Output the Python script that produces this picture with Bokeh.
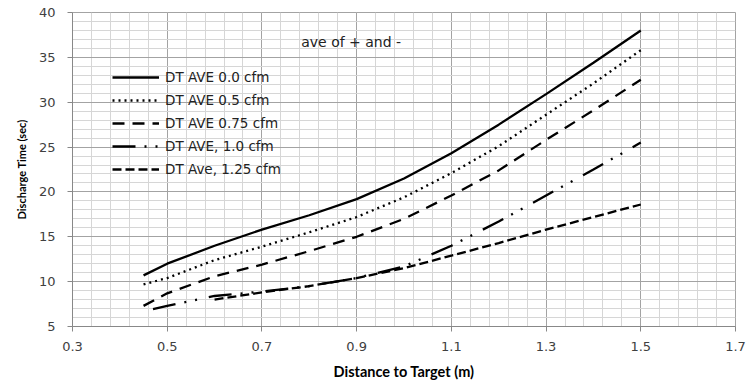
from bokeh.plotting import figure
from bokeh.models import FixedTicker, Legend, LegendItem, Label
from bokeh.embed import file_html
from bokeh.resources import INLINE

# ---- data ----
x_main = [0.45, 0.5, 0.6, 0.7, 0.8, 0.9, 1.0, 1.1, 1.2, 1.3, 1.4, 1.5]
dt_00 = [10.7, 12.0, 14.0, 15.8, 17.4, 19.2, 21.5, 24.3, 27.5, 30.9, 34.4, 38.0]
dt_05 = [9.7, 10.4, 12.4, 13.9, 15.5, 17.2, 19.4, 22.1, 25.1, 28.6, 32.1, 35.8]
dt_075 = [7.3, 8.7, 10.6, 11.9, 13.4, 15.0, 17.0, 19.6, 22.4, 25.8, 29.1, 32.5]
x_10 = [0.47, 0.5, 0.6, 0.7, 0.8, 0.9, 1.0, 1.1, 1.2, 1.3, 1.4, 1.5]
dt_10 = [6.95, 7.3, 8.4, 8.9, 9.5, 10.4, 11.7, 14.0, 16.7, 19.6, 22.5, 25.5]
x_125 = [0.6, 0.7, 0.8, 0.9, 1.0, 1.1, 1.2, 1.3, 1.4, 1.5]
dt_125 = [8.0, 8.8, 9.5, 10.4, 11.5, 12.9, 14.3, 15.8, 17.2, 18.6]

labels = ["DT AVE 0.0 cfm", "DT AVE 0.5 cfm", "DT AVE 0.75 cfm",
          "DT AVE, 1.0 cfm", "DT Ave, 1.25 cfm"]
x_ticks = [0.3, 0.5, 0.7, 0.9, 1.1, 1.3, 1.5, 1.7]
y_ticks = [5, 10, 15, 20, 25, 30, 35, 40]
note = "ave of + and -"

x_minor = [round(0.3 + 0.04 * i, 2) for i in range(36)]
y_minor = list(range(5, 41))

MAJOR = "#a3a3a3"
MINOR = "#d6d6d6"

p = figure(width=748, height=382, x_range=(0.3, 1.7), y_range=(5, 40),
           output_backend="svg", toolbar_location=None,
           min_border_left=72, min_border_right=13, min_border_top=12,
           min_border_bottom=55)

p.background_fill_color = "white"
p.border_fill_color = "white"
p.outline_line_color = MAJOR

xt = FixedTicker(ticks=x_ticks, minor_ticks=x_minor)
yt = FixedTicker(ticks=y_ticks, minor_ticks=y_minor)
p.xaxis.ticker = xt
p.yaxis.ticker = yt
p.xgrid.ticker = xt
p.ygrid.ticker = yt
for g in (p.xgrid, p.ygrid):
    g.grid_line_color = MAJOR
    g.grid_line_width = 1
    g.minor_grid_line_color = MINOR
    g.minor_grid_line_width = 1

for ax in (p.xaxis, p.yaxis):
    ax.axis_line_color = "#888888"
    ax.major_tick_line_color = "#888888"
    ax.major_tick_out = 5
    ax.major_tick_in = 0
    ax.minor_tick_out = 0
    ax.minor_tick_in = 0
    ax.major_label_text_font = "DejaVu Sans"
    ax.major_label_text_font_size = "13px"
    ax.major_label_text_color = "#404040"
    ax.axis_label_text_font = "Lato"
    ax.axis_label_text_font_style = "bold"
    ax.axis_label_text_color = "#000000"

p.xaxis.major_label_standoff = 10
p.yaxis.major_label_standoff = 12
p.xaxis.axis_label = "Distance to Target (m)"
p.xaxis.axis_label_text_font_size = "14.5px"
p.xaxis.axis_label_standoff = 9
p.yaxis.axis_label = "Discharge Time (sec)"
p.yaxis.axis_label_text_font_size = "11px"
p.yaxis.axis_label_standoff = 8

r1 = p.line(x_main, dt_00, line_color="black", line_width=2.3)
r2 = p.line(x_main, dt_05, line_color="black", line_width=2.3, line_dash="2 4")
r3 = p.line(x_main, dt_075, line_color="black", line_width=2.3, line_dash="12 8")
r4 = p.line(x_10, dt_10, line_color="black", line_width=2.3, line_dash="23 9 2 9 2 12")
r5 = p.line(x_125, dt_125, line_color="black", line_width=2.3, line_dash="9 4")

legend = Legend(items=[LegendItem(label=l, renderers=[r]) for l, r in
                       zip(labels, [r1, r2, r3, r4, r5])],
                location=(40, 147))
legend.margin = 0
legend.padding = 0
legend.spacing = 3
legend.glyph_width = 47
legend.glyph_height = 20
legend.label_height = 20
legend.label_standoff = 6
legend.label_text_font = "DejaVu Sans"
legend.label_text_font_size = "13.5px"
legend.label_text_color = "#222222"
legend.border_line_color = None
legend.background_fill_alpha = 0
p.add_layout(legend)

p.add_layout(Label(x=0.783, y=36.7, text=note, text_font="DejaVu Sans",
                   text_font_size="14px", text_baseline="middle",
                   text_color="#222222"))

open("out.html", "w").write(file_html(p, INLINE))
